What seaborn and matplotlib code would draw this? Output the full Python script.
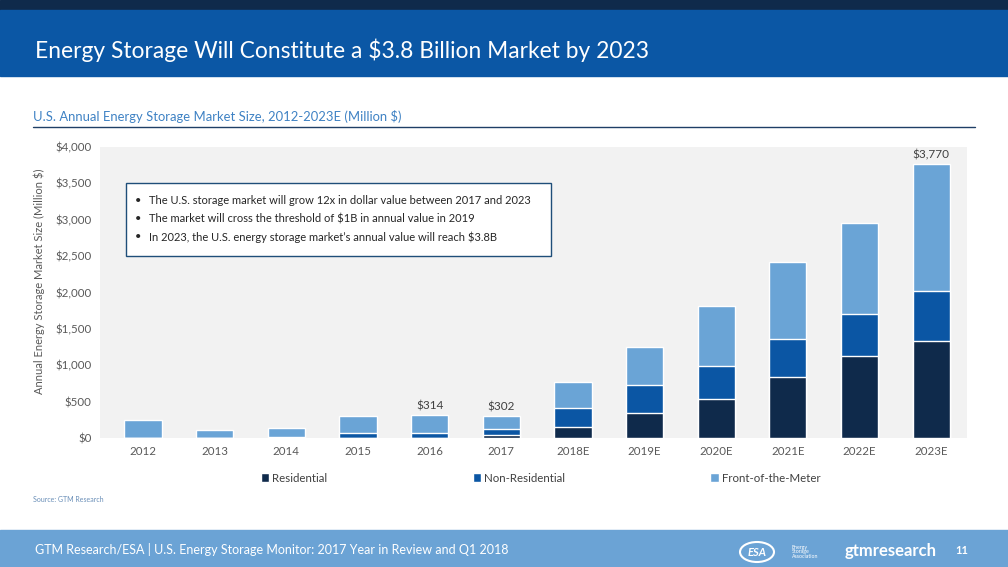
import matplotlib
matplotlib.use("Agg")
import matplotlib.pyplot as plt
import seaborn as sns
import pandas as pd
from matplotlib.patches import Rectangle, Ellipse
from matplotlib.ticker import FuncFormatter

# data (Million $)
years = ["2012", "2013", "2014", "2015", "2016", "2017",
         "2018E", "2019E", "2020E", "2021E", "2022E", "2023E"]
residential = [0, 1, 2, 3, 5, 40, 151, 343, 535, 836, 1130, 1330]
non_residential = [3, 4, 5, 60, 70, 85, 265, 388, 457, 526, 580, 690]
front_of_meter = [248, 105, 130, 234, 239, 177, 347, 521, 818, 1056, 1240, 1750]
labelled_years = ["2016", "2017", "2023E"]
bullets = [
    "The U.S. storage market will grow 12x in dollar value between 2017 and 2023",
    "The market will cross the threshold of $1B in annual value in 2019",
    "In 2023, the U.S. energy storage market\u2019s annual value will reach $3.8B",
]

NAVY = "#0f2a4b"
BLUE = "#0b56a4"
LIGHT = "#6aa4d6"
GREY_TXT = "#595959"

df = pd.DataFrame({"year": years, "res": residential,
                   "nonres": non_residential, "ftm": front_of_meter})
df["lvl2"] = df["res"] + df["nonres"]
df["total"] = df["lvl2"] + df["ftm"]

sns.set_style("white")
plt.rcParams["font.family"] = ["Lato", "DejaVu Sans"]

W, H = 1008, 567
fig = plt.figure(figsize=(W / 100, H / 100), dpi=100)


def fx(px):
    return px / W


def fy(py):
    return 1 - py / H


# header / footer bands
fig.patches.append(Rectangle((0, fy(10)), 1, 10 / H, transform=fig.transFigure,
                             color="#0f2a4b", zorder=0))
fig.patches.append(Rectangle((0, fy(76)), 1, 66 / H, transform=fig.transFigure,
                             color="#0b57a5", zorder=0))
fig.patches.append(Rectangle((0, 0), 1, 37 / H, transform=fig.transFigure,
                             color="#6ba3d5", zorder=0))
fig.text(fx(35), fy(50), "Energy Storage Will Constitute a $3.8 Billion Market by 2023",
         color="white", fontsize=16.4, va="center", ha="left")
fig.text(fx(33), fy(117), "U.S. Annual Energy Storage Market Size, 2012-2023E (Million $)",
         color="#3f82c4", fontsize=9.4, va="center", ha="left")
fig.add_artist(plt.Line2D([fx(33), fx(975)], [fy(127), fy(127)],
                          transform=fig.transFigure, color="#1f3f66", lw=1))

ax = fig.add_axes([fx(100), fy(438), 867 / W, 291 / H])
ax.set_facecolor("#f2f2f2")

w = 0.52
sns.barplot(data=df, x="year", y="total", order=years, color=LIGHT, width=w,
            saturation=1, ax=ax, label="Front-of-the-Meter", zorder=2)
sns.barplot(data=df, x="year", y="lvl2", order=years, color=BLUE, width=w,
            saturation=1, ax=ax, label="Non-Residential", zorder=2)
sns.barplot(data=df, x="year", y="res", order=years, color=NAVY, width=w,
            saturation=1, ax=ax, label="Residential", zorder=2)
handles, labels = ax.get_legend_handles_labels()
if ax.get_legend() is not None:
    ax.get_legend().remove()

for i, row in df.iterrows():
    if row["year"] in labelled_years:
        ax.text(i, row["total"] + 45, f"${row['total']:,.0f}", ha="center", va="bottom",
                fontsize=8.5, color="#404040")

ax.set_ylim(0, 4000)
ax.set_xlim(-0.6, 11.5)
ax.set_yticks(range(0, 4001, 500))
ax.yaxis.set_major_formatter(FuncFormatter(lambda v, p: f"${v:,.0f}"))
ax.tick_params(axis="both", labelsize=8.3, colors=GREY_TXT, length=0, pad=6)
ax.set_xlabel("")
ax.set_ylabel("Annual Energy Storage Market Size (Million $)", fontsize=8,
              color=GREY_TXT, labelpad=4)
ax.yaxis.set_label_coords(-0.064, 0.54)
for s in ax.spines.values():
    s.set_visible(False)

# bullet box
fig.patches.append(Rectangle((fx(126), fy(256)), 425 / W, 73 / H, transform=fig.transFigure,
                             fc="white", ec="#1f4e79", lw=1, zorder=3))
for k, b in enumerate(bullets):
    yy = fy(201 + 18 * k)
    fig.text(fx(135), yy, "\u2022", fontsize=8, color="#262626", va="center", zorder=4)
    fig.text(fx(149), yy, b, fontsize=8, color="#262626", va="center", zorder=4)

order = [labels.index(l) for l in ["Residential", "Non-Residential", "Front-of-the-Meter"]]
fig.legend([handles[k] for k in order], [labels[k] for k in order],
           loc="center left", bbox_to_anchor=(fx(255), fy(478)), ncol=3, frameon=False,
           fontsize=8.3, handlelength=0.7, handleheight=0.7, handletextpad=0.3,
           columnspacing=12.6, labelcolor="#404040", borderpad=0)

fig.text(fx(33), fy(499), "Source: GTM Research", fontsize=5, color="#6a8fb8",
         va="center")

# footer
fig.text(fx(35), fy(550),
         "GTM Research/ESA | U.S. Energy Storage Monitor: 2017 Year in Review and Q1 2018",
         color="white", fontsize=9, va="center")
fig.patches.append(Ellipse((fx(757), fy(552)), 34 / W, 20 / H, transform=fig.transFigure,
                           fc="none", ec="white", lw=1.5))
fig.text(fx(757), fy(552), "ESA", color="white", fontsize=8, fontweight="bold",
         style="italic", ha="center", va="center")
fig.text(fx(792), fy(552), "Energy\nStorage\nAssociation", color="white", fontsize=3.8,
         ha="left", va="center", linespacing=1.0)
fig.text(fx(845), fy(551), "gtmresearch", color="white", fontsize=12, fontweight="bold",
         ha="left", va="center")
fig.text(fx(968), fy(551), "11", color="white", fontsize=8, fontweight="bold",
         ha="right", va="center")

fig.savefig("out.png", dpi=100)
